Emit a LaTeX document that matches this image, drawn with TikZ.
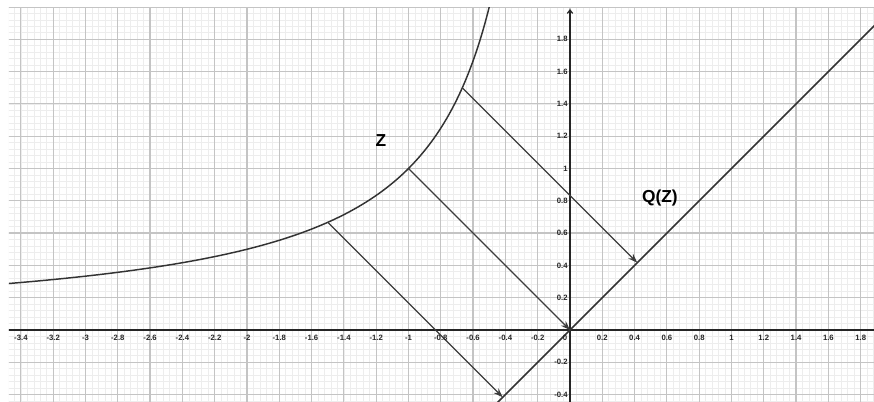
\documentclass[tikz,border=0pt]{standalone}
\usepackage{fontspec}
\setmainfont{Liberation Sans}
\usetikzlibrary{arrows.meta}
\definecolor{minorgrid}{HTML}{EDEDED}
\definecolor{majorgrid}{HTML}{C4C4C4}
\definecolor{axiscol}{HTML}{252525}
\definecolor{curvecol}{HTML}{333333}
\definecolor{arrowcol}{HTML}{3C3C3C}
\tikzset{
  minorline/.style={draw=minorgrid, line width=0.6pt},
  majorline/.style={draw=majorgrid, line width=0.9pt},
  axisline/.style={draw=axiscol, line width=0.9pt},
  curveline/.style={draw=curvecol, line width=1.1pt},
  projarrow/.style={draw=arrowcol, line width=0.95pt, -{Stealth[length=7pt,width=5pt]}},
  ticklab/.style={font=\fontsize{5.8}{6}\selectfont\bfseries, text=axiscol, inner sep=0pt},
  biglab/.style={font=\fontsize{13}{15}\selectfont\bfseries, text=black, inner sep=0pt},
}
\begin{document}
\begin{tikzpicture}[x=121.125pt, y=121.125pt]
\useasboundingbox (-3.5294,-0.4458) rectangle (1.8824,2.0433);
\begin{scope}
\clip (-3.4737,-0.4458) rectangle (1.8824,1.9938);
% minor grid
\foreach \i in {-87,...,47} { \draw[minorline] (\i*0.04,-0.5) -- (\i*0.04,2.1); }
\foreach \j in {-12,...,50} { \draw[minorline] (-3.6,\j*0.04) -- (1.9,\j*0.04); }
% major grid
\foreach \i in {-17,...,9} { \draw[majorline] (\i*0.2,-0.5) -- (\i*0.2,2.1); }
\foreach \j in {-2,...,10} { \draw[majorline] (-3.6,\j*0.2) -- (1.9,\j*0.2); }
% axes
\coordinate (xl) at (-3.6,0);
\coordinate (xr) at (1.9,0);
\coordinate (yb) at (0,-0.5);
\coordinate (yt) at (0,1.987);
\draw[axisline] (xl) -- (xr);
\draw[axisline, -{Straight Barb[length=2.5pt,width=4pt]}] (yb) -- (yt);
% curve Z and line Q(Z)
\draw[curveline] plot[domain=-3.6:-0.48, samples=200, smooth] (\x,{-1/\x});
\coordinate (lb) at (-0.5,-0.5);
\coordinate (lt) at (1.95,1.95);
\draw[curveline] (lb) -- (lt);
% projection arrows
\coordinate (A1) at (-1.5,0.66667);
\coordinate (B1) at (-0.41667,-0.41667);
\coordinate (A2) at (-1,1);
\coordinate (B2) at (0,0);
\coordinate (A3) at (-0.66667,1.5);
\coordinate (B3) at (0.41667,0.41667);
\draw[projarrow] (A1) -- (B1);
\draw[projarrow] (A2) -- (B2);
\draw[projarrow] (A3) -- (B3);
\end{scope}
% x tick labels
\foreach \v/\t [count=\k] in {-3.4/-3.4,-3.2/-3.2,-3/-3,-2.8/-2.8,-2.6/-2.6,-2.4/-2.4,-2.2/-2.2,-2/-2,-1.8/-1.8,-1.6/-1.6,-1.4/-1.4,-1.2/-1.2,-1/-1,-0.8/-0.8,-0.6/-0.6,-0.4/-0.4,-0.2/-0.2,0.2/0.2,0.4/0.4,0.6/0.6,0.8/0.8,1/1,1.2/1.2,1.4/1.4,1.6/1.6,1.8/1.8}
  { \node[ticklab] (xtick\k) at (\v,-0.046) {\t}; }
\node[ticklab] (xtickzero) at (-0.031,-0.046) {0};
% y tick labels
\foreach \v/\t [count=\k] in {-0.4/-0.4,-0.2/-0.2,0.2/0.2,0.4/0.4,0.6/0.6,0.8/0.8,1/1,1.2/1.2,1.4/1.4,1.6/1.6,1.8/1.8}
  { \node[ticklab, anchor=east] (ytick\k) at (-0.013,\v) {\t}; }
% labels
\node[biglab] (zlab) at (-1.17,1.176) {Z};
\node[biglab] (qlab) at (0.557,0.817) {Q(Z)};
\end{tikzpicture}
\end{document}
